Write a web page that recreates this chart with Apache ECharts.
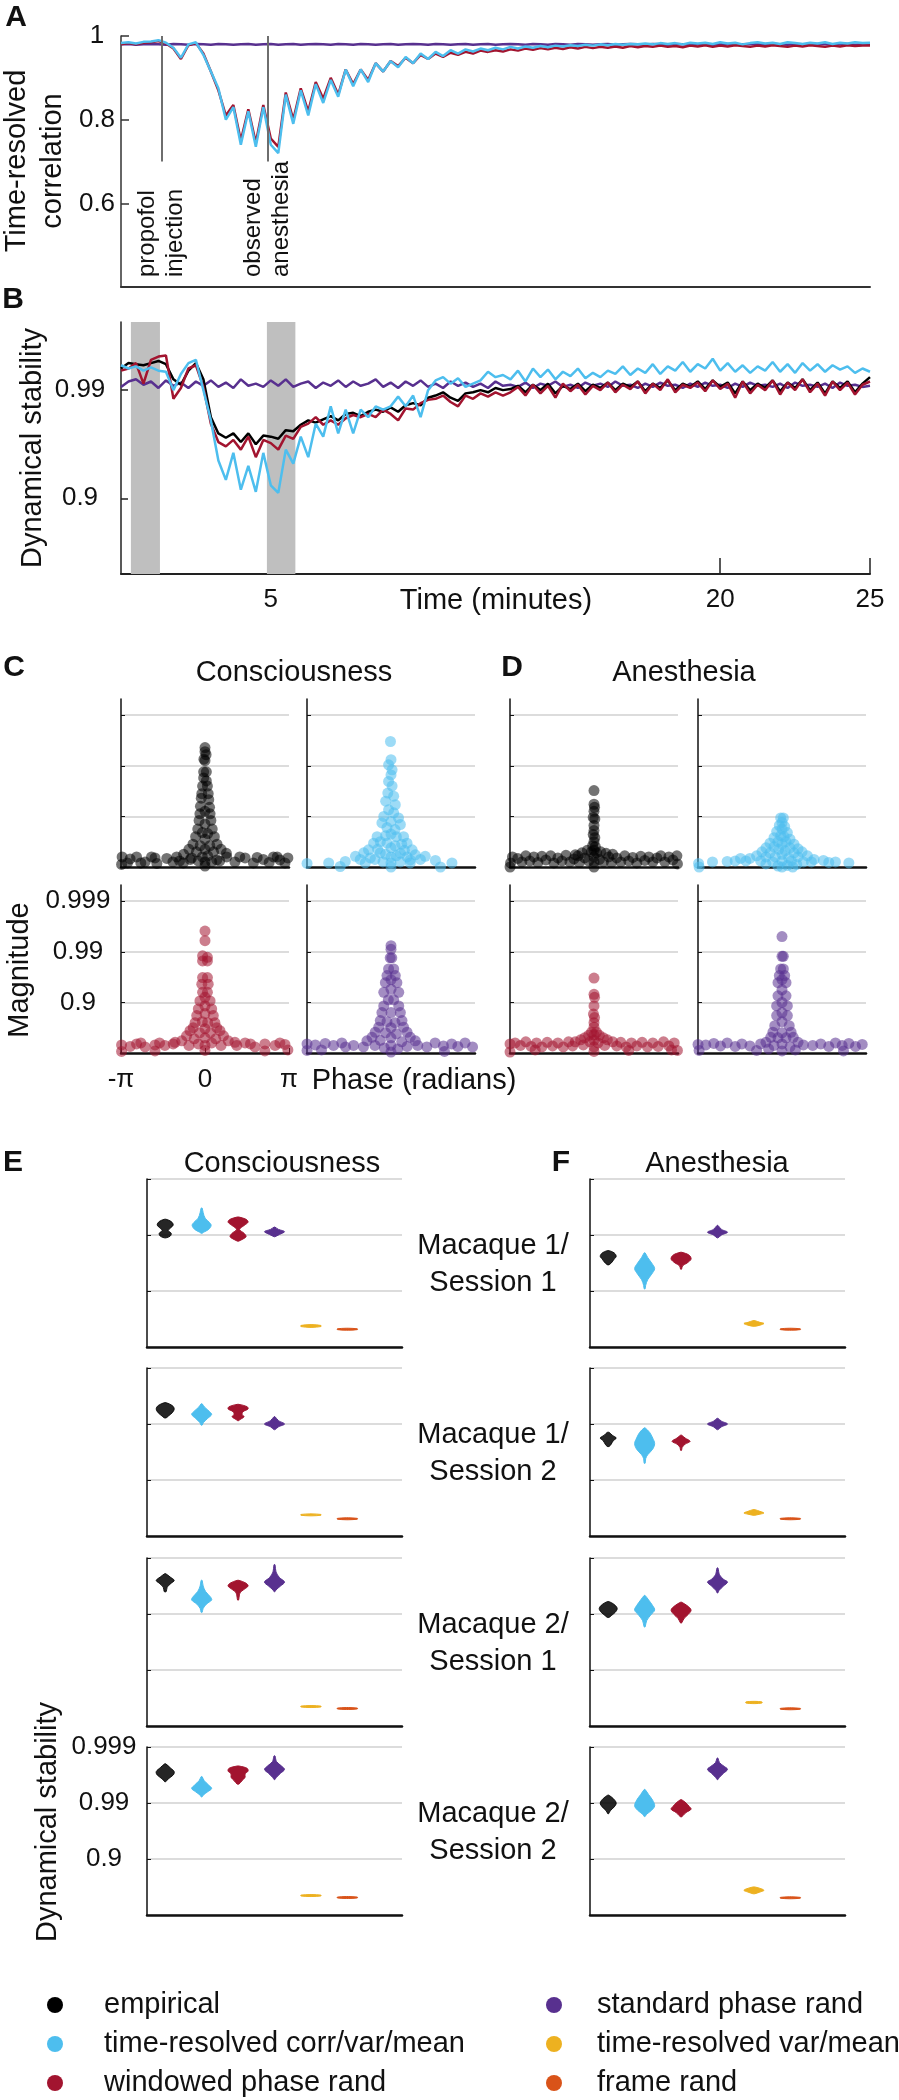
<!DOCTYPE html>
<html><head><meta charset="utf-8">
<script src="https://cdn.jsdelivr.net/npm/echarts@6/dist/echarts.min.js"></script>
<style>html,body{margin:0;padding:0;background:#fff}#c{width:899px;height:2100px}</style>
</head><body><div id="c"></div>
<script>
// ---------------- DATA ----------------
// time axis (minutes)
const times = [0,0.25,0.5,0.75, 1,1.25,1.5,1.75, 2,2.25,2.5,2.75, 3,3.25,3.5,3.75, 4,4.25,4.5,4.75,
 5,5.25,5.5,5.75, 6,6.25,6.5,6.75, 7,7.25,7.5,7.75, 8,8.25,8.5,8.75, 9,9.25,9.5,9.75,
 10,10.25,10.5,10.75, 11,11.25,11.5,11.75, 12,12.25,12.5,12.75, 13,13.25,13.5,13.75, 14,14.25,14.5,14.75,
 15,15.25,15.5,15.75, 16,16.25,16.5,16.75, 17,17.25,17.5,17.75, 18,18.25,18.5,18.75, 19,19.25,19.5,19.75,
 20,20.25,20.5,20.75, 21,21.25,21.5,21.75, 22,22.25,22.5,22.75, 23,23.25,23.5,23.75, 24,24.25,24.5,24.75, 25];

// Panel A: time-resolved correlation
const corrTRCVM = [0.983,0.985,0.982,0.986, 0.987,0.99,0.984,0.972, 0.948,0.98,0.985,0.955, 0.915,0.875,0.80,0.83,
 0.74,0.82,0.735,0.83, 0.74,0.72,0.86,0.79, 0.87,0.81,0.885,0.84, 0.895,0.855,0.92,0.88, 0.92,0.89,0.935,0.915,
 0.94,0.925,0.95,0.935, 0.958,0.945,0.962,0.952, 0.966,0.958,0.968,0.963, 0.97,0.966,0.972,0.968, 0.974,0.97,0.975,0.972,
 0.976,0.973,0.977,0.975, 0.978,0.976,0.979,0.977, 0.98,0.978,0.981,0.979, 0.981,0.98,0.982,0.98, 0.983,0.981,0.983,0.98,
 0.984,0.982,0.984,0.981, 0.985,0.982,0.984,0.98, 0.983,0.985,0.982,0.984, 0.981,0.985,0.983,0.981, 0.984,0.982,0.985,0.981,
 0.984,0.982,0.985,0.983, 0.984];
const corrWPR = [0.98,0.983,0.98,0.984, 0.985,0.988,0.982,0.97, 0.945,0.978,0.983,0.958, 0.915,0.87,0.81,0.835,
 0.75,0.825,0.745,0.835, 0.755,0.735,0.865,0.80, 0.875,0.82,0.89,0.85, 0.9,0.86,0.92,0.885, 0.92,0.895,0.935,0.915,
 0.94,0.928,0.948,0.935, 0.955,0.945,0.958,0.95, 0.96,0.955,0.962,0.958, 0.965,0.962,0.966,0.963, 0.968,0.965,0.97,0.967,
 0.971,0.968,0.972,0.969, 0.973,0.97,0.974,0.971, 0.974,0.972,0.975,0.972, 0.976,0.973,0.976,0.974, 0.977,0.974,0.976,0.973,
 0.977,0.975,0.978,0.974, 0.977,0.975,0.978,0.976, 0.974,0.977,0.975,0.978, 0.976,0.974,0.977,0.975, 0.978,0.976,0.974,0.977,
 0.975,0.978,0.976,0.977, 0.977];
const corrSPR = [0.98,0.981,0.979,0.98, 0.981,0.98,0.979,0.981, 0.98,0.979,0.981,0.98, 0.979,0.981,0.98,0.979,
 0.98,0.981,0.979,0.98, 0.981,0.979,0.98,0.981, 0.979,0.98,0.981,0.98, 0.979,0.981,0.98,0.979, 0.981,0.98,0.979,0.98,
 0.981,0.979,0.98,0.981, 0.98,0.979,0.981,0.98, 0.979,0.98,0.981,0.979, 0.98,0.981,0.979,0.98, 0.981,0.98,0.979,0.981,
 0.98,0.979,0.981,0.98, 0.979,0.981,0.98,0.979, 0.98,0.981,0.979,0.98, 0.981,0.98,0.979,0.981, 0.98,0.979,0.981,0.98,
 0.979,0.98,0.981,0.979, 0.98,0.981,0.979,0.98, 0.981,0.98,0.979,0.981, 0.98,0.979,0.981,0.98, 0.979,0.981,0.98,0.979,
 0.98,0.981,0.979,0.98, 0.98];
const events = [{t:1.35, label:'propofol\ninjection'}, {t:4.9, label:'observed\nanesthesia'}];

// Panel B: dynamical stability, in "nines" = -log10(1 - stability)
const stabEMP = [2.2,2.25,2.24,2.23, 2.25,2.27,2.24,2.1, 2.05,2.18,2.25,2.1, 1.75,1.6,1.56,1.6, 1.52,1.6,1.5,1.58,
 1.57,1.55,1.63,1.62, 1.68,1.72,1.7,1.73, 1.76,1.72,1.78,1.79, 1.76,1.8,1.82,1.8, 1.84,1.8,1.86,1.88,
 1.86,1.93,1.95,1.98, 1.93,1.9,1.97,1.98, 2.0,1.98,2.02,2.0, 2.01,2.04,1.98,2.05, 2.0,2.06,1.97,2.04,
 2.01,2.06,1.99,2.05, 2.02,2.07,2.0,2.06, 2.03,2.08,1.99,2.06, 2.02,2.09,2.0,2.06, 2.03,2.08,2.01,2.09,
 2.03,2.07,1.97,2.08, 2.0,2.06,2.02,2.09, 1.99,2.07,2.02,2.1, 2.0,2.07,1.97,2.08, 2.02,2.08,1.98,2.06, 2.12];
const stabWPR = [2.18,2.2,2.25,2.06, 2.28,2.31,2.32,1.92, 2.02,2.2,2.23,2.03, 1.69,1.52,1.48,1.54, 1.45,1.57,1.38,1.54,
 1.51,1.45,1.58,1.55, 1.66,1.69,1.75,1.68, 1.72,1.68,1.74,1.77, 1.75,1.78,1.75,1.82, 1.78,1.72,1.83,1.82,
 1.88,1.91,1.92,1.95, 1.89,1.85,1.95,1.92, 1.97,1.94,1.98,1.95, 1.98,2.03,1.95,2.05, 1.97,2.04,1.93,2.06,
 1.99,2.05,1.96,2.04, 2.0,2.07,1.98,2.05, 2.01,2.08,1.97,2.06, 2.0,2.1,1.98,2.05, 2.02,2.07,1.99,2.09,
 2.01,2.06,1.93,2.08, 1.97,2.05,2.0,2.09, 1.96,2.07,2.0,2.1, 1.98,2.06,1.95,2.08, 2.0,2.07,1.96,2.05, 2.08];
const stabTRCVM = [2.23,2.2,2.22,2.18, 2.21,2.18,2.17,2.0, 2.15,2.25,2.28,2.0, 1.72,1.35,1.17,1.42, 1.08,1.3,1.06,1.42,
 1.12,1.05,1.45,1.32, 1.57,1.38,1.69,1.57, 1.85,1.6,1.82,1.6, 1.82,1.75,1.85,1.82, 1.85,1.94,1.85,1.95,
 1.75,2.0,2.09,2.12, 2.06,2.11,2.03,2.06, 2.09,2.17,2.12,2.14, 2.1,2.18,2.08,2.2, 2.12,2.19,2.1,2.17,
 2.13,2.2,2.11,2.16, 2.12,2.18,2.15,2.22, 2.14,2.2,2.16,2.24, 2.15,2.22,2.18,2.26, 2.17,2.24,2.2,2.29,
 2.18,2.25,2.17,2.23, 2.16,2.22,2.18,2.26, 2.17,2.24,2.16,2.25, 2.18,2.24,2.17,2.23, 2.19,2.22,2.16,2.2, 2.17];
const stabSPR = [2.03,2.08,2.1,2.05, 2.08,2.02,2.09,2.04, 2.07,2.02,2.08,2.04, 2.09,2.03,2.07,2.02, 2.1,2.04,2.06,2.03,
 2.09,2.04,2.1,2.03, 2.06,2.08,2.02,2.07, 2.04,2.09,2.03,2.08, 2.04,2.06,2.1,2.03, 2.07,2.02,2.08,2.04,
 2.09,2.03,2.06,2.02, 2.08,2.04,2.07,2.03, 2.06,2.02,2.08,2.04, 2.05,2.03,2.07,2.02, 2.06,2.04,2.08,2.03,
 2.05,2.02,2.07,2.04, 2.06,2.03,2.08,2.04, 2.05,2.02,2.06,2.03, 2.07,2.04,2.05,2.02, 2.06,2.03,2.07,2.04,
 2.05,2.02,2.06,2.03, 2.07,2.04,2.05,2.03, 2.06,2.02,2.07,2.04, 2.05,2.03,2.06,2.02, 2.07,2.04,2.05,2.03, 2.04];
const shadedBands = [[0.33, 1.3], [4.87, 5.82]];

// Panels C/D: eigenvalues [phase (rad), magnitude in nines]
const eigConsEMP = [[-3.12,0.05],[-3.1,0.2],[-2.9,0.08],[-2.8,0.16],[-2.56,0.2],[-2.4,0.08],[-2.24,0.1],[-2.0,0.2],[-1.87,0.18],[-1.8,0.07],
 [-1.43,0.17],[-1.2,0.1],[-1.06,0.2],[-0.95,0.12],[-0.81,0.08],[-0.5,0.18],[0.44,0.14],[0.81,0.2],[1.12,0.1],[1.3,0.2],[1.5,0.18],[1.81,0.08],
 [1.95,0.19],[2.18,0.15],[2.4,0.09],[2.56,0.2],[2.7,0.2],[2.8,0.14],[2.99,0.08],[3.1,0.18],
 [0,2.36],[0,2.28],[0.04,2.22],[-0.04,2.13],[0,2.1],[-0.05,1.88],[0.05,1.88],[-0.05,1.76],[0.05,1.7],[-0.09,1.6],[0.09,1.6],
 [-0.12,1.45],[0.12,1.45],[-0.14,1.36],[0.14,1.33],[-0.17,1.2],[0.17,1.18],[-0.19,1.05],[0.19,1.05],[0,1.1],[-0.22,0.92],[0.22,0.92],
 [0,0.85],[-0.27,0.75],[0.27,0.75],[-0.1,0.68],[0.1,0.66],[-0.35,0.6],[0.35,0.6],[0,0.55],[-0.45,0.45],[0.45,0.45],[-0.18,0.42],[0.18,0.42],
 [-0.6,0.35],[0.6,0.35],[0,0.35],[-0.32,0.3],[0.32,0.3],[-0.8,0.25],[0.8,0.27],[-0.1,0.2],[0.1,0.22],[0,0.1],[0,0.02],[-0.55,0.15],[0.55,0.12],[-0.25,0.12],[0.25,0.1]];
const eigConsTRCVM = [[-0.02,2.48],[0,2.12],[-0.09,2.02],[0.04,1.92],[0,1.82],[-0.09,1.69],[0.04,1.6],[-0.12,1.46],[0.1,1.4],[-0.2,1.3],[0.16,1.23],
 [-0.09,1.13],[0.1,1.07],[-0.27,1.0],[0.28,0.97],[-0.34,0.87],[0.35,0.84],[0,0.9],[-0.15,0.78],[0.15,0.74],[-0.52,0.6],[0.47,0.6],[-0.2,0.62],
 [0.2,0.6],[0,0.65],[-0.65,0.47],[0.6,0.47],[-0.15,0.47],[0.15,0.42],[-0.4,0.5],[0.4,0.45],[-0.84,0.34],[0.79,0.34],[-0.5,0.35],[0.5,0.33],
 [0,0.38],[-1.02,0.28],[0.91,0.24],[-0.4,0.28],[0.35,0.27],[-0.2,0.25],[0.2,0.22],[-1.33,0.21],[1.28,0.21],[-0.77,0.18],[0.72,0.14],[0,0.2],
 [-0.6,0.15],[0.6,0.2],[-1.71,0.11],[1.66,0.13],[-2.33,0.08],[2.28,0.08],[-3.14,0.07],[-1.9,0.01],[1.85,0.0],[-0.96,0.08],[0,0.08],[0.72,0.08],
 [-0.3,0.1],[0.35,0.1],[1.1,0.15],[-1.15,0.15],[0,0.0]];
const eigAnesEMP = [[0,1.51],[0,1.24],[0.02,1.18],[0,1.1],[-0.03,0.98],[0.03,0.95],[0,0.82],[0,0.72],[-0.03,0.64],[0.03,0.58],[0,0.5],
 [-0.05,0.42],[0.05,0.4],[0,0.33],[-0.1,0.3],[0.1,0.28],[-0.25,0.33],[0.25,0.3],[-0.45,0.28],[0.45,0.27],[-0.7,0.24],[0.7,0.25],[0,0.2],[0,0.1],[0,0.0],
 [-3.12,0.08],[-3.05,0.2],[-2.85,0.17],[-2.7,0.1],[-2.55,0.22],[-2.4,0.12],[-2.25,0.2],[-2.1,0.09],[-1.95,0.21],[-1.8,0.14],[-1.62,0.22],
 [-1.5,0.08],[-1.35,0.18],[-1.2,0.12],[-1.05,0.23],[-0.9,0.1],[-0.75,0.16],[-0.6,0.22],[-0.55,0.09],[-0.35,0.18],[-0.2,0.12],[0.2,0.15],
 [0.35,0.1],[0.55,0.2],[0.65,0.09],[0.85,0.18],[1.0,0.1],[1.15,0.22],[1.3,0.12],[1.45,0.19],[1.6,0.08],[1.75,0.21],[1.9,0.13],[2.05,0.2],
 [2.2,0.1],[2.35,0.18],[2.5,0.22],[2.65,0.1],[2.8,0.2],[2.95,0.14],[3.1,0.22],[3.12,0.06],[-3.14,0.0]];
const eigAnesTRCVM = [[-0.05,0.97],[0.05,0.97],[0,0.88],[-0.1,0.82],[0.1,0.8],[0,0.75],[-0.2,0.7],[0.2,0.68],[-0.05,0.62],[0.08,0.6],
 [-0.3,0.58],[0.3,0.55],[-0.15,0.5],[0.15,0.5],[-0.45,0.47],[0.45,0.45],[0,0.45],[-0.3,0.4],[0.3,0.38],[-0.6,0.38],[0.6,0.36],[-0.12,0.35],
 [0.12,0.32],[-0.75,0.3],[0.75,0.3],[-0.45,0.28],[0.45,0.28],[0,0.25],[-0.95,0.22],[0.95,0.22],[-0.6,0.2],[0.6,0.2],[-0.25,0.2],[0.25,0.18],
 [-1.2,0.17],[1.2,0.15],[-0.8,0.12],[0.8,0.1],[-0.35,0.1],[0.35,0.12],[0,0.12],[-1.35,0.12],[1.1,0.1],[-0.6,0.06],[0.55,0.05],
 [-3.12,0.07],[-2.6,0.1],[-2.05,0.11],[-1.75,0.12],[-1.55,0.17],[1.55,0.13],[1.75,0.09],[2.0,0.1],[2.5,0.08],[-3.1,0.0],[0,0.0],[-0.15,0.02],[0.2,0.03],[0.4,0.0]];
const eigConsWPR = [[0,2.41],[0,2.22],[-0.09,1.92],[0.09,1.89],[-0.09,1.82],[0.09,1.82],[-0.09,1.49],[0.09,1.49],[-0.12,1.36],[0.12,1.36],
 [-0.09,1.2],[0.09,1.2],[-0.19,1.03],[0.19,1.03],[0,1.1],[-0.25,0.87],[0.25,0.87],[0,0.93],[-0.31,0.74],[0.31,0.74],[0,0.78],[-0.37,0.6],[0.37,0.6],
 [-0.1,0.62],[0.1,0.6],[-0.44,0.5],[0.44,0.5],[0,0.48],[-0.56,0.44],[0.56,0.44],[-0.2,0.4],[0.2,0.4],[-0.69,0.34],[0.69,0.34],[0,0.3],
 [-0.87,0.24],[0.87,0.24],[-0.4,0.28],[0.4,0.28],[-1.12,0.21],[1.12,0.21],[0,0.15],[-0.25,0.18],[0.25,0.2],[0,0.05],[-0.6,0.15],[0.6,0.15],
 [-3.12,0.16],[-3.12,0.03],[-2.8,0.13],[-2.56,0.18],[-2.24,0.12],[-1.87,0.16],[-1.87,0.04],[-1.5,0.15],[-1.19,0.18],[1.19,0.15],[1.5,0.2],
 [1.87,0.12],[2.24,0.18],[2.24,0.04],[2.62,0.15],[2.99,0.17],[3.1,0.06],[-2.4,0.2],[-1.7,0.2],[1.7,0.18],[2.8,0.2]];
const eigConsSPR = [[0,2.12],[0,2.05],[-0.03,1.88],[0.03,1.88],[-0.09,1.66],[0.1,1.66],[-0.15,1.53],[0.16,1.53],[-0.21,1.39],[0.22,1.39],[0,1.45],
 [-0.27,1.2],[0.29,1.2],[0,1.26],[-0.27,0.93],[0.29,0.93],[-0.1,1.05],[0.1,1.05],[-0.34,0.8],[0.35,0.8],[0,0.8],[-0.4,0.64],[0.41,0.64],
 [-0.15,0.62],[0.15,0.6],[-0.46,0.51],[0.47,0.51],[0,0.5],[-0.59,0.41],[0.6,0.41],[-0.2,0.4],[0.2,0.38],[-0.71,0.31],[0.72,0.31],[0,0.3],
 [-0.9,0.24],[0.91,0.24],[-0.4,0.25],[0.4,0.22],[0,0.15],[-0.6,0.15],[0.6,0.13],[0,0.02],[-0.25,0.1],[0.25,0.08],
 [-3.14,0.18],[-3.14,0.05],[-2.83,0.16],[-2.46,0.19],[-2.15,0.15],[-1.84,0.2],[-1.4,0.15],[-1.03,0.12],[1.0,0.15],[1.34,0.12],[1.65,0.2],
 [1.96,0.14],[2.27,0.18],[2.5,0.13],[2.77,0.2],[3.05,0.12],[-2.6,0.06],[2.0,0.03],[-1.7,0.12]];
const eigAnesWPR = [[0,1.48],[0,1.16],[0.02,1.1],[0,0.93],[-0.02,0.77],[0.02,0.7],[0,0.6],[0,0.51],[-0.09,0.41],[0.09,0.41],[-0.2,0.35],
 [0.2,0.35],[0,0.36],[-0.35,0.3],[0.35,0.3],[-0.5,0.26],[0.5,0.26],[-0.7,0.22],[0.7,0.22],[0,0.25],[-0.15,0.22],[0.15,0.2],[0,0.12],[0,0.03],
 [-3.14,0.18],[-3.14,0.02],[-2.95,0.2],[-2.75,0.15],[-2.55,0.22],[-2.35,0.13],[-2.15,0.2],[-1.95,0.12],[-1.75,0.21],[-1.55,0.14],[-1.35,0.2],
 [-1.15,0.12],[-0.95,0.22],[-0.8,0.14],[-0.4,0.16],[0.4,0.15],[0.85,0.14],[1.0,0.21],[1.2,0.12],[1.4,0.2],[1.6,0.14],[1.8,0.21],[2.0,0.12],
 [2.2,0.2],[2.4,0.13],[2.6,0.22],[2.8,0.14],[3.0,0.2],[3.12,0.05],[2.9,0.06],[-2.2,0.06],[1.3,0.05]];
const eigAnesSPR = [[0,2.3],[0,1.91],[0.05,1.91],[-0.05,1.66],[0.05,1.66],[-0.1,1.53],[0.1,1.53],[-0.15,1.39],[0.15,1.39],[0,1.45],
 [-0.15,1.13],[0.15,1.13],[0,1.25],[-0.2,0.93],[0.2,0.93],[0,1.0],[-0.2,0.74],[0.2,0.74],[0,0.8],[-0.27,0.54],[0.27,0.54],[0,0.62],
 [-0.34,0.41],[0.34,0.41],[0,0.4],[-0.42,0.31],[0.42,0.31],[-0.15,0.3],[0.15,0.3],[-0.6,0.21],[0.6,0.21],[-0.8,0.18],[0.8,0.16],[0,0.18],
 [-0.3,0.15],[0.3,0.12],[0,0.04],[-0.5,0.08],[0.5,0.06],
 [-3.14,0.17],[-3.1,0.05],[-2.85,0.16],[-2.55,0.19],[-2.3,0.14],[-2.05,0.2],[-1.75,0.13],[-1.5,0.18],[-1.2,0.14],[1.15,0.15],[1.45,0.18],
 [1.75,0.13],[2.0,0.2],[2.25,0.15],[2.5,0.19],[2.75,0.13],[3.0,0.17],[-0.95,0.05],[2.3,0.04]];

// Panels E/F: violin density profiles, [stability in nines, relative density]
const violinConsM1S1 = {
 empirical:[[2.28,0.1],[2.24,0.6],[2.18,0.8],[2.12,0.5],[2.08,0.3],[2.03,0.6],[1.98,0.5],[1.95,0.1]],
 trcvm:[[2.48,0.05],[2.4,0.15],[2.3,0.35],[2.22,0.8],[2.17,0.95],[2.1,0.7],[2.05,0.2],[2.03,0.05]],
 wpr:[[2.32,0.1],[2.28,0.8],[2.23,1.0],[2.17,0.6],[2.1,0.15],[2.03,0.6],[1.97,0.8],[1.92,0.4],[1.89,0.05]],
 spr:[[2.14,0.05],[2.1,0.4],[2.06,1.0],[2.01,0.5],[1.97,0.05]],
 trvm:[[0.40,0.1],[0.385,1.0],[0.365,1.0],[0.35,0.1]],
 fr:[[0.335,0.1],[0.325,1],[0.31,1],[0.30,0.1]]};
const violinAnesM1S1 = {
 empirical:[[1.72,0.1],[1.68,0.6],[1.62,0.8],[1.57,0.6],[1.52,0.4],[1.47,0.1]],
 trcvm:[[1.68,0.05],[1.6,0.3],[1.5,0.7],[1.4,1.0],[1.3,0.7],[1.2,0.3],[1.1,0.1],[1.04,0.05]],
 wpr:[[1.69,0.1],[1.64,0.8],[1.57,1.0],[1.5,0.6],[1.45,0.15],[1.39,0.05]],
 spr:[[2.17,0.05],[2.1,0.4],[2.05,1.0],[2.0,0.4],[1.95,0.05]],
 trvm:[[0.47,0.1],[0.44,0.6],[0.42,1.0],[0.39,0.6],[0.37,0.1]],
 fr:[[0.335,0.1],[0.325,1],[0.31,1],[0.30,0.1]]};
const violinConsM1S2 = {
 empirical:[[2.38,0.1],[2.33,0.7],[2.27,0.9],[2.2,0.7],[2.14,0.3],[2.11,0.1]],
 trcvm:[[2.36,0.05],[2.3,0.3],[2.22,0.8],[2.17,1.0],[2.1,0.6],[2.03,0.2],[1.98,0.05]],
 wpr:[[2.35,0.1],[2.31,0.9],[2.27,1.0],[2.22,0.5],[2.17,0.4],[2.13,0.6],[2.08,0.2],[2.06,0.05]],
 spr:[[2.13,0.05],[2.06,0.4],[2.0,1.0],[1.95,0.4],[1.9,0.05]],
 trvm:[[0.395,0.1],[0.385,1],[0.37,1],[0.36,0.1]],
 fr:[[0.325,0.1],[0.315,1],[0.30,1],[0.29,0.1]]};
const violinAnesM1S2 = {
 empirical:[[1.85,0.1],[1.8,0.4],[1.75,0.8],[1.7,0.5],[1.64,0.3],[1.6,0.1]],
 trcvm:[[1.93,0.05],[1.85,0.5],[1.75,0.8],[1.65,1.0],[1.55,0.8],[1.45,0.3],[1.38,0.1],[1.3,0.05]],
 wpr:[[1.8,0.05],[1.75,0.4],[1.69,0.9],[1.64,0.4],[1.58,0.1],[1.53,0.05]],
 spr:[[2.1,0.05],[2.05,0.4],[2.0,1.0],[1.95,0.4],[1.9,0.05]],
 trvm:[[0.47,0.1],[0.44,0.6],[0.41,1.0],[0.39,0.6],[0.37,0.1]],
 fr:[[0.325,0.1],[0.315,1],[0.30,1],[0.29,0.1]]};
const violinConsM2S1 = {
 empirical:[[2.72,0.05],[2.66,0.5],[2.6,0.9],[2.55,0.6],[2.48,0.2],[2.4,0.1]],
 trcvm:[[2.6,0.05],[2.5,0.15],[2.4,0.4],[2.3,0.9],[2.25,1.0],[2.18,0.5],[2.1,0.15],[2.03,0.05]],
 wpr:[[2.6,0.1],[2.55,0.8],[2.5,1.0],[2.44,0.6],[2.38,0.2],[2.3,0.1],[2.25,0.05]],
 spr:[[2.88,0.05],[2.75,0.15],[2.65,0.5],[2.57,1.0],[2.5,0.6],[2.43,0.15],[2.4,0.05]],
 trvm:[[0.365,0.1],[0.355,1],[0.34,1],[0.33,0.1]],
 fr:[[0.33,0.1],[0.32,1],[0.305,1],[0.295,0.1]]};
const violinAnesM2S1 = {
 empirical:[[2.22,0.1],[2.17,0.6],[2.1,0.9],[2.03,0.7],[1.97,0.3],[1.94,0.1]],
 trcvm:[[2.33,0.05],[2.25,0.4],[2.15,0.8],[2.07,1.0],[1.98,0.6],[1.88,0.2],[1.77,0.05]],
 wpr:[[2.21,0.05],[2.15,0.6],[2.07,1.0],[1.99,0.7],[1.92,0.3],[1.84,0.05]],
 spr:[[2.82,0.05],[2.7,0.2],[2.62,0.6],[2.57,1.0],[2.5,0.6],[2.42,0.15],[2.38,0.05]],
 trvm:[[0.44,0.1],[0.43,0.8],[0.41,0.8],[0.40,0.1]],
 fr:[[0.325,0.1],[0.315,1],[0.30,1],[0.29,0.1]]};
const violinConsM2S2 = {
 empirical:[[2.7,0.05],[2.63,0.5],[2.56,0.9],[2.5,0.8],[2.43,0.3],[2.38,0.05]],
 trcvm:[[2.47,0.05],[2.4,0.25],[2.32,0.7],[2.26,1.0],[2.2,0.6],[2.14,0.15],[2.11,0.05]],
 wpr:[[2.66,0.1],[2.62,0.9],[2.57,1.0],[2.52,0.7],[2.46,0.7],[2.4,0.4],[2.34,0.1]],
 spr:[[2.84,0.05],[2.74,0.2],[2.66,0.7],[2.6,1.0],[2.53,0.6],[2.45,0.15],[2.42,0.05]],
 trvm:[[0.365,0.1],[0.355,1],[0.34,1],[0.33,0.1]],
 fr:[[0.33,0.1],[0.32,1],[0.305,1],[0.295,0.1]]};
const violinAnesM2S2 = {
 empirical:[[2.14,0.05],[2.08,0.5],[2.0,0.8],[1.93,0.6],[1.86,0.2],[1.81,0.05]],
 trcvm:[[2.24,0.05],[2.15,0.4],[2.05,0.8],[1.95,1.0],[1.87,0.7],[1.8,0.2],[1.76,0.05]],
 wpr:[[2.06,0.05],[2.0,0.5],[1.94,0.8],[1.89,1.0],[1.83,0.5],[1.77,0.15],[1.75,0.05]],
 spr:[[2.8,0.05],[2.72,0.2],[2.65,0.7],[2.6,1.0],[2.53,0.6],[2.45,0.15],[2.42,0.05]],
 trvm:[[0.5,0.1],[0.47,0.7],[0.44,1.0],[0.41,0.6],[0.38,0.1]],
 fr:[[0.325,0.1],[0.315,1],[0.30,1],[0.29,0.1]]};
const sessionLabels = ['Macaque 1/\nSession 1','Macaque 1/\nSession 2','Macaque 2/\nSession 1','Macaque 2/\nSession 2'];
const stabilityTicks = {1:'0.9', 2:'0.99', 3:'0.999'};
const legendColumns = [['empirical','trcvm','wpr'], ['spr','trvm','fr']];

// ---------------- STYLE ----------------
const FONT = "'Liberation Sans', Arial, Helvetica, sans-serif";
const TXT = '#111';
const MODELS = ['empirical','trcvm','wpr','spr','trvm','fr'];
const NAMES = {empirical:'empirical', trcvm:'time-resolved corr/var/mean', wpr:'windowed phase rand',
  spr:'standard phase rand', trvm:'time-resolved var/mean', fr:'frame rand'};
const COLORS = {empirical:'#000000', trcvm:'#4DBEEE', wpr:'#A2142F', spr:'#58308F', trvm:'#EDB120', fr:'#D95319'};

const chart = echarts.init(document.getElementById('c'), null, {renderer:'canvas'});
const grids = [], xAxes = [], yAxes = [], series = [];
const stabFmt = v => stabilityTicks[Math.round(v)] && Math.abs(v - Math.round(v)) < 1e-6 ? stabilityTicks[Math.round(v)] : '';

// Panel A
grids.push({left:121, top:36, width:749, height:251});
xAxes.push({gridIndex:0, type:'value', min:0, max:25, axisLine:{onZero:false, lineStyle:{color:'#333', width:2}},
  axisTick:{show:false}, axisLabel:{show:false}, splitLine:{show:false}});
yAxes.push({gridIndex:0, type:'value', min:0.4, max:1, interval:0.2,
  axisLine:{show:true, onZero:false, lineStyle:{color:'#333', width:1.5}},
  axisTick:{show:true, inside:true, length:8, lineStyle:{color:'#333', width:1.5}},
  axisLabel:{fontSize:26, color:TXT, fontFamily:FONT, align:'center', margin:24,
    formatter: v => Math.abs(v - 0.4) < 1e-6 ? '' : String(+v.toFixed(2))},
  splitLine:{show:false}});
const lineStyleBase = (c) => ({type:'line', showSymbol:false, symbol:'none', lineStyle:{color:c, width:2.5}, itemStyle:{color:c}, animation:false});
series.push(Object.assign(lineStyleBase(COLORS.spr), {name:NAMES.spr, xAxisIndex:0, yAxisIndex:0, z:2,
  data: times.map((t,i)=>[t, corrSPR[i]]),
  markLine:{silent:true, symbol:'none', label:{show:false}, lineStyle:{color:'#6e6e6e', width:2, type:'solid'},
    data: events.map(e => [{coord:[e.t, 1]}, {coord:[e.t, 0.7]}])}}));
series.push(Object.assign(lineStyleBase(COLORS.wpr), {name:NAMES.wpr, xAxisIndex:0, yAxisIndex:0, z:3, data: times.map((t,i)=>[t, corrWPR[i]])}));
series.push(Object.assign(lineStyleBase(COLORS.trcvm), {name:NAMES.trcvm, xAxisIndex:0, yAxisIndex:0, z:4, data: times.map((t,i)=>[t, corrTRCVM[i]])}));

// Panel B
grids.push({left:121, top:322, width:749, height:252});
xAxes.push({gridIndex:1, type:'value', min:0, max:25, axisLine:{onZero:false, lineStyle:{color:'#222', width:2}},
  axisTick:{show:true, inside:true, length:16, customValues:[20,25], lineStyle:{color:'#222', width:1.5}},
  axisLabel:{show:true, customValues:[5,20,25], fontSize:26, color:TXT, fontFamily:FONT, margin:13},
  splitLine:{show:false}});
yAxes.push({gridIndex:1, type:'value', min:0.3, max:2.63,
  axisLine:{show:true, onZero:false, lineStyle:{color:'#222', width:1.5}},
  axisTick:{show:true, inside:true, length:7, customValues:[1,2], lineStyle:{color:'#222', width:1.5}},
  axisLabel:{show:true, customValues:[1,2], formatter:stabFmt, fontSize:26, color:TXT, fontFamily:FONT, align:'center', margin:41},
  splitLine:{show:false}});
series.push({type:'line', xAxisIndex:1, yAxisIndex:1, data:[], z:0, silent:true,
  markArea:{silent:true, itemStyle:{color:'#bfbfbf', opacity:1}, data: shadedBands.map(b => [{xAxis:b[0]}, {xAxis:b[1]}])}});
series.push(Object.assign(lineStyleBase(COLORS.spr), {name:NAMES.spr, xAxisIndex:1, yAxisIndex:1, z:2, data: times.map((t,i)=>[t, stabSPR[i]])}));
series.push(Object.assign(lineStyleBase(COLORS.empirical), {name:NAMES.empirical, xAxisIndex:1, yAxisIndex:1, z:3, data: times.map((t,i)=>[t, stabEMP[i]])}));
series.push(Object.assign(lineStyleBase(COLORS.wpr), {name:NAMES.wpr, xAxisIndex:1, yAxisIndex:1, z:4, data: times.map((t,i)=>[t, stabWPR[i]])}));
series.push(Object.assign(lineStyleBase(COLORS.trcvm), {name:NAMES.trcvm, xAxisIndex:1, yAxisIndex:1, z:5, data: times.map((t,i)=>[t, stabTRCVM[i]])}));

// Panels C/D
const scatterPanels = [
  {data:eigConsEMP, m:'empirical', col:0, row:0}, {data:eigConsTRCVM, m:'trcvm', col:1, row:0},
  {data:eigAnesEMP, m:'empirical', col:2, row:0}, {data:eigAnesTRCVM, m:'trcvm', col:3, row:0},
  {data:eigConsWPR, m:'wpr', col:0, row:1}, {data:eigConsSPR, m:'spr', col:1, row:1},
  {data:eigAnesWPR, m:'wpr', col:2, row:1}, {data:eigAnesSPR, m:'spr', col:3, row:1}];
const scLeft = [121, 307, 510, 698], scTop = [699, 885];
scatterPanels.forEach(p => {
  const g = grids.length;
  const labeled = (p.col === 0 && p.row === 1);
  grids.push({left:scLeft[p.col], top:scTop[p.row], width:168, height:168});
  xAxes.push({gridIndex:g, type:'value', min:-Math.PI, max:Math.PI,
    axisLine:{onZero:false, lineStyle:{color:'#111', width:2.5}},
    axisTick:{show:labeled, inside:true, length:5, customValues:[-Math.PI,0,Math.PI], lineStyle:{color:'#111'}},
    axisLabel:{show:labeled, customValues:[-Math.PI,0,Math.PI], fontSize:26, color:TXT, fontFamily:FONT, margin:14,
      formatter: v => v < -1 ? '-π' : (v > 1 ? 'π' : '0')},
    splitLine:{show:false}});
  yAxes.push({gridIndex:g, type:'value', min:0, max:3.32,
    axisLine:{show:true, onZero:false, lineStyle:{color:'#111', width:1.5}},
    axisTick:{show:true, inside:true, length:4, customValues:[1,2,3], lineStyle:{color:'#111'}},
    axisLabel:{show:labeled, customValues:[1,2,3], formatter:stabFmt, fontSize:26, color:TXT, fontFamily:FONT, align:'center', margin:43},
    splitLine:{show:true, lineStyle:{color:'#dcdcdc', width:2}}});
  series.push({type:'scatter', name:NAMES[p.m], xAxisIndex:g, yAxisIndex:g, data:p.data, symbol:'circle', symbolSize:11,
    itemStyle:{color:COLORS[p.m], opacity:0.55}, z:3, animation:false, silent:true});
});

// Panels E/F
const violinPanels = [violinConsM1S1, violinAnesM1S1, violinConsM1S2, violinAnesM1S2,
                      violinConsM2S1, violinAnesM2S1, violinConsM2S2, violinAnesM2S2];
const vLeft = [147, 590], vTop = [1179, 1368, 1558, 1747];
const HALF = 10;
violinPanels.forEach((panel, k) => {
  const col = k % 2, row = Math.floor(k / 2);
  const g = grids.length;
  const labeled = (col === 0 && row === 3);
  grids.push({left:vLeft[col], top:vTop[row], width:255, height:168});
  xAxes.push({gridIndex:g, type:'value', min:0.5, max:7.5,
    axisLine:{onZero:false, lineStyle:{color:'#111', width:2.5}}, axisTick:{show:false}, axisLabel:{show:false}, splitLine:{show:false}});
  yAxes.push({gridIndex:g, type:'value', min:0, max:3, interval:1,
    axisLine:{show:true, onZero:false, lineStyle:{color:'#111', width:1.5}},
    axisTick:{show:true, inside:true, length:4, lineStyle:{color:'#111'}},
    axisLabel:{show:labeled, formatter:stabFmt, fontSize:26, color:TXT, fontFamily:FONT, align:'center', margin:43},
    splitLine:{show:true, lineStyle:{color:'#dcdcdc', width:2}}});
  MODELS.forEach((m, i) => {
    const prof = panel[m];
    const color = COLORS[m];
    series.push({type:'custom', name:NAMES[m], xAxisIndex:g, yAxisIndex:g, z:3, silent:true, animation:false,
      itemStyle:{color:color},
      data:[[i + 1, prof[Math.floor(prof.length / 2)][0]]],
      renderItem: (params, api) => {
        const cx = api.coord([api.value(0), 0])[0];
        const right = prof.map(([u, w]) => [cx + w * HALF, api.coord([api.value(0), u])[1]]);
        const left = prof.slice().reverse().map(([u, w]) => [cx - w * HALF, api.coord([api.value(0), u])[1]]);
        return {type:'polygon', shape:{points: right.concat(left), smooth:0.35},
          style:{fill:color, stroke:color, lineWidth:1, opacity: m === 'empirical' ? 0.85 : 1}};
      }});
  });
});

const option = {
  animation:false,
  backgroundColor:'#fff',
  grid: grids, xAxis: xAxes, yAxis: yAxes, series: series
};
chart.setOption(option);

// ---------------- TEXT (titles, axis names, annotations, legend) ----------------
function T(x, y, text, size, extra) {
  return Object.assign({type:'text', x:x, y:y, silent:true,
    style:Object.assign({text:text, fontSize:size, fontFamily:FONT, fill:TXT, align:'center', verticalAlign:'middle'}, (extra && extra.style) || {})},
    extra && extra.rotation !== undefined ? {rotation: extra.rotation} : {});
}
const bold = {style:{fontWeight:'bold'}};
const rot = (lh) => ({rotation:Math.PI/2, style:{lineHeight:lh}});
const elements = [
  T(16, 18, 'A', 30, bold), T(13, 300, 'B', 30, bold), T(14, 668, 'C', 30, bold), T(512, 668, 'D', 30, bold),
  T(13, 1163, 'E', 30, bold), T(561, 1163, 'F', 30, bold),
  T(294, 673, 'Consciousness', 29), T(684, 673, 'Anesthesia', 29),
  T(282, 1164, 'Consciousness', 29), T(717, 1164, 'Anesthesia', 29),
  T(35, 161, 'Time-resolved\ncorrelation', 29, rot(36)),
  T(33, 448, 'Dynamical stability', 29, rot(34)),
  T(20, 970, 'Magnitude', 29, rot(34)),
  T(48, 1822, 'Dynamical stability', 29, rot(34)),
  T(496, 601, 'Time (minutes)', 29),
  T(414, 1081, 'Phase (radians)', 29)
];
sessionLabels.forEach((s, r) => elements.push(T(493, vTop[r] + 85, s, 29, {style:{lineHeight:37}})));
events.forEach(e => {
  const p = chart.convertToPixel({gridIndex:0}, [e.t, 0.4]);
  elements.push({type:'text', x:p[0], y:p[1] - 10, rotation:Math.PI/2, silent:true,
    style:{text:e.label, fontSize:24, lineHeight:28, fontFamily:FONT, fill:TXT, align:'left', verticalAlign:'middle'}});
});
// legend
const legMarkX = [55, 554], legTextX = [104, 597], legRowY = [2005, 2044, 2083];
legendColumns.forEach((col, c) => col.forEach((m, r) => {
  elements.push({type:'circle', silent:true, shape:{cx:legMarkX[c], cy:legRowY[r], r:8}, style:{fill:COLORS[m]}});
  elements.push(T(legTextX[c], legRowY[r], NAMES[m], 29, {style:{align:'left'}}));
}));
chart.setOption({graphic:{elements: elements}});
</script></body></html>
